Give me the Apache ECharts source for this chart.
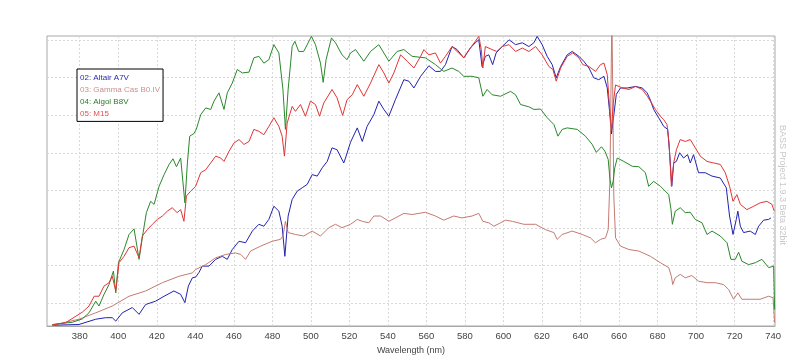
<!DOCTYPE html>
<html>
<head>
<meta charset="utf-8">
<script src="https://cdn.jsdelivr.net/npm/echarts@6/dist/echarts.min.js"></script>
<style>
html,body{margin:0;padding:0;background:#fff;}
#chart{width:800px;height:363px;}
</style>
</head>
<body>
<div id="chart"></div>
<script>
const wavelengthTicks = [380,400,420,440,460,480,500,520,540,560,580,600,620,640,660,680,700,720,740];
const gridLevels = [0,1,2,3,4,5,6,7];
const seriesNames = ['02: Altair A7V','03: Gamma Cas B0.IV','04: Algol B8V','05: M15'];

const altair = [[365.8,-0.58],[379.6,-0.56],[388.3,-0.42],[393.4,-0.38],[396.9,-0.38],[398.7,-0.47],[402.1,-0.25],[407.3,-0.11],[410.8,-0.29],[414.2,-0.03],[419.4,0.06],[423.8,0.19],[428.9,0.33],[432.4,0.24],[434.6,0.02],[436.4,0.46],[438.5,0.68],[440.2,0.70],[441.9,0.82],[443.6,0.99],[447.1,0.99],[450.6,1.17],[454.0,1.25],[456.6,1.17],[459.2,1.43],[462.7,1.65],[466.1,1.61],[469.6,1.92],[473.0,2.10],[475.6,2.05],[478.2,2.23],[480.8,2.58],[483.4,2.45],[485.1,2.05],[486.5,1.25],[488.2,2.32],[490.3,2.76],[492.9,2.98],[495.5,3.07],[498.1,3.16],[500.7,3.42],[503.3,3.38],[505.9,3.60],[508.5,3.77],[511.0,4.13],[513.6,4.08],[517.1,3.73],[518.0,3.86],[520.6,4.28],[524.1,4.66],[526.7,4.30],[529.2,4.70],[532.7,5.01],[535.3,5.37],[537.9,5.15],[540.5,4.97],[543.9,5.41],[548.3,5.94],[550.9,5.90],[553.5,5.72],[557.0,6.03],[561.3,6.31],[564.7,6.16],[567.3,6.16],[569.9,6.34],[573.3,6.82],[575.9,6.74],[579.4,6.52],[582.8,6.78],[585.4,6.92],[587.2,7.00],[588.9,6.29],[590.6,6.56],[592.4,6.60],[594.4,6.34],[596.2,6.65],[599.4,6.82],[602.9,7.00],[606.3,6.87],[609.8,6.92],[613.2,6.82],[615.8,6.92],[617.5,7.09],[620.1,6.87],[622.7,6.56],[625.3,6.34],[627.4,5.99],[629.7,6.29],[633.1,6.60],[635.7,6.69],[639.2,6.56],[641.7,6.43],[644.4,6.25],[646.9,5.99],[649.5,5.94],[652.2,6.03],[653.9,5.72],[655.1,5.10],[656.1,4.50],[657.2,4.95],[658.6,5.55],[660.8,5.72],[664.3,5.72],[668.6,5.76],[672.1,5.72],[674.6,5.59],[676.3,5.40],[678.0,5.15],[680.6,4.93],[683.2,4.70],[685.3,4.62],[686.4,3.91],[687.4,3.11],[688.4,3.73],[689.8,3.77],[691.5,4.00],[693.5,3.86],[695.6,3.95],[697.0,3.73],[698.7,3.95],[701.3,3.47],[704.8,3.47],[708.3,3.38],[712.6,3.33],[715.7,3.07],[717.4,2.32],[719.2,1.83],[720.9,2.23],[721.7,2.45],[723.0,2.05],[724.7,1.88],[728.1,1.92],[730.8,1.83],[732.5,2.05],[735.1,2.21],[737.7,2.23],[738.9,2.27]];

const gammaCas = [[365.8,-0.58],[379.6,-0.42],[388.3,-0.25],[396.9,-0.07],[405.6,0.19],[414.2,0.33],[422.9,0.55],[431.5,0.72],[438.5,0.81],[440.2,0.90],[445.4,1.03],[450.6,1.21],[455.8,1.30],[460.9,1.34],[463.6,1.30],[466.1,1.17],[468.7,1.39],[473.9,1.52],[479.9,1.65],[484.2,1.70],[485.6,1.80],[486.8,2.18],[488.2,1.88],[492.0,1.83],[496.3,1.79],[500.7,1.92],[505.0,1.79],[509.3,2.01],[512.8,2.10],[516.2,2.01],[520.6,2.10],[524.1,2.23],[526.7,2.18],[530.1,2.14],[532.7,2.32],[536.2,2.32],[540.5,2.18],[543.9,2.27],[548.3,2.39],[552.6,2.36],[559.5,2.42],[564.7,2.32],[569.0,2.21],[574.2,2.32],[578.5,2.27],[583.7,2.32],[587.2,2.39],[589.3,2.18],[592.4,2.14],[595.0,2.05],[598.5,2.14],[601.1,2.21],[604.6,2.18],[610.6,2.10],[616.7,2.10],[621.8,1.96],[626.2,1.88],[627.9,1.70],[630.5,1.83],[635.7,1.92],[640.9,1.83],[645.2,1.74],[647.8,1.61],[650.4,1.70],[653.0,1.74],[654.4,1.96],[655.3,3.29],[656.0,6.38],[656.3,7.60],[656.6,6.38],[657.3,2.85],[658.2,1.74],[660.8,1.52],[665.2,1.43],[670.3,1.39],[676.3,1.25],[681.5,1.08],[685.8,0.95],[687.2,0.72],[687.9,0.50],[689.2,0.68],[691.8,0.77],[694.4,0.68],[697.8,0.74],[701.3,0.59],[705.7,0.55],[710.0,0.55],[714.3,0.50],[716.9,0.37],[719.5,0.11],[721.7,0.28],[723.8,0.11],[728.1,0.11],[733.3,0.11],[737.7,0.19],[740.0,0.15],[740.8,-0.51]];

const algol = [[365.8,-0.56],[376.2,-0.50],[381.4,-0.41],[384.8,-0.25],[388.3,0.06],[390.0,-0.07],[392.6,0.24],[395.2,0.50],[397.5,0.86],[398.7,0.28],[400.1,1.08],[403.0,1.43],[405.6,1.83],[408.2,1.98],[410.8,1.17],[412.9,1.88],[414.6,2.41],[416.8,2.71],[418.6,2.63],[421.2,3.11],[423.8,3.42],[426.4,3.69],[428.4,3.84],[430.2,3.63],[432.4,3.86],[434.6,2.67],[435.9,3.73],[437.1,4.44],[439.3,4.51],[440.5,4.62],[442.8,5.01],[445.4,5.19],[448.0,5.15],[449.7,5.37],[452.3,5.59],[454.9,5.15],[456.6,5.59],[459.2,5.85],[461.8,6.21],[464.4,6.12],[467.9,6.14],[470.4,6.52],[473.0,6.56],[475.6,6.38],[478.2,6.47],[480.8,6.87],[483.4,6.65],[485.5,5.68],[486.8,4.62],[488.2,5.68],[490.3,6.82],[491.7,6.96],[493.7,6.69],[496.3,6.69],[500.3,7.09],[502.4,6.87],[505.0,6.38],[506.4,5.87],[507.9,6.47],[510.7,7.05],[512.8,6.92],[516.2,6.60],[518.8,6.47],[520.6,6.65],[523.2,6.74],[527.5,6.43],[531.0,6.69],[535.3,6.87],[540.5,6.43],[544.8,6.69],[548.3,6.74],[552.6,6.56],[559.5,6.52],[564.7,6.34],[569.0,6.16],[573.3,6.25],[576.8,6.16],[579.4,6.03],[583.7,6.03],[587.2,5.99],[589.3,5.50],[591.5,5.68],[594.1,5.54],[598.5,5.50],[603.7,5.63],[606.3,5.54],[608.9,5.28],[613.2,5.22],[615.8,5.15],[619.3,5.16],[622.7,4.93],[626.2,4.75],[628.3,4.44],[630.5,4.62],[633.1,4.66],[638.3,4.62],[642.6,4.44],[646.1,4.22],[648.2,4.01],[650.9,4.16],[652.7,4.04],[654.4,3.82],[655.3,3.30],[656.1,3.07],[657.0,3.25],[657.8,3.60],[659.1,3.86],[662.5,3.77],[666.9,3.64],[670.3,3.63],[673.7,3.47],[675.4,3.11],[678.0,3.24],[681.5,3.11],[685.8,2.89],[687.0,2.49],[687.7,2.10],[689.2,2.45],[691.8,2.54],[694.4,2.41],[697.0,2.42],[699.6,2.23],[703.1,2.14],[705.7,1.83],[708.3,1.92],[712.6,1.79],[716.1,1.61],[718.1,1.17],[720.4,1.17],[722.1,1.36],[723.8,1.12],[727.3,1.03],[730.8,1.08],[734.2,1.17],[737.7,0.95],[740.3,0.99],[740.8,-0.16]];

const m15 = [[365.8,-0.57],[372.7,-0.51],[378.0,-0.34],[381.4,-0.23],[384.8,-0.07],[387.5,0.19],[390.0,0.19],[392.6,0.46],[395.2,0.55],[396.9,0.72],[398.7,0.33],[400.4,1.08],[403.0,1.25],[405.6,1.48],[408.2,1.52],[410.8,1.21],[412.5,1.79],[415.1,1.96],[417.7,2.10],[420.3,2.23],[422.9,2.32],[425.5,2.45],[428.0,2.54],[430.6,2.41],[432.4,2.49],[434.1,2.18],[435.4,2.85],[437.6,2.98],[440.2,3.11],[442.8,3.47],[445.4,3.55],[448.0,3.73],[450.6,3.91],[453.2,3.86],[454.9,3.77],[457.5,4.04],[460.1,4.26],[462.7,4.35],[465.3,4.22],[467.9,4.30],[470.4,4.62],[473.0,4.57],[475.6,4.48],[478.2,4.70],[480.8,4.93],[483.4,4.70],[485.1,4.44],[486.3,3.91],[487.7,4.79],[490.3,5.23],[492.0,5.10],[494.6,5.28],[497.2,4.97],[499.8,5.37],[502.4,5.28],[504.5,4.97],[506.7,5.32],[511.0,5.68],[513.6,5.46],[516.5,4.99],[518.8,5.41],[521.5,5.54],[524.1,5.81],[527.5,5.50],[531.0,5.85],[535.3,6.34],[537.9,6.12],[540.5,5.85],[543.1,6.12],[546.6,6.60],[550.0,6.43],[553.5,6.25],[557.0,6.56],[558.7,6.74],[561.3,6.60],[564.7,6.65],[567.3,6.38],[569.9,6.56],[573.3,6.82],[575.9,6.69],[579.4,6.52],[582.8,6.78],[585.4,6.96],[587.2,7.09],[588.5,6.74],[589.3,6.25],[590.6,6.82],[594.1,6.74],[596.5,6.69],[599.4,6.82],[602.9,6.87],[606.3,6.69],[609.8,6.78],[613.2,6.69],[616.7,6.82],[620.1,6.60],[623.6,6.29],[625.7,6.21],[627.4,5.90],[629.7,6.25],[633.1,6.56],[636.0,6.65],[639.2,6.52],[641.2,6.34],[644.4,6.29],[647.8,6.16],[650.4,6.34],[652.2,6.38],[653.9,6.07],[655.1,5.20],[656.1,4.60],[657.0,5.30],[658.2,5.80],[659.1,5.81],[661.7,5.72],[665.2,5.68],[668.6,5.76],[672.1,5.68],[674.7,5.50],[676.3,5.37],[678.9,5.15],[681.5,4.97],[683.2,4.88],[684.9,4.75],[686.0,4.26],[687.2,3.11],[688.4,3.73],[689.8,4.08],[691.8,4.35],[694.4,4.30],[697.0,4.35],[699.6,4.13],[702.2,3.91],[705.7,3.77],[709.1,3.73],[712.6,3.69],[715.2,3.47],[717.4,3.11],[719.2,2.71],[721.2,2.89],[723.0,2.63],[726.4,2.49],[729.9,2.58],[733.3,2.67],[736.8,2.71],[739.4,2.63],[740.6,2.45]];

const lineColors = ['#2222b0','#c47a72','#2a882a','#e03535'];
const legendColors = ['#2a2aa8','#c89090','#2a7a2a','#e05050'];
const seriesData = [altair, gammaCas, algol, m15];

const chart = echarts.init(document.getElementById('chart'), null, {renderer:'canvas'});
const font = "'Liberation Sans', Arial, sans-serif";

chart.setOption({
  animation: false,
  backgroundColor: '#fff',
  textStyle: { fontFamily: font },
  grid: { left: 47, top: 36, right: 25, bottom: 37, show: true, borderColor: '#a8a8a8', borderWidth: 1, backgroundColor: '#fff' },
  legend: {
    orient: 'vertical', left: 77, top: 69,
    backgroundColor: '#fff', borderColor: '#000', borderWidth: 1,
    padding: [4, 3, 3, 0],
    itemWidth: 0, itemHeight: 0, itemGap: 1.8,
    icon: 'rect',
    selectedMode: false,
    textStyle: { fontSize: 8, lineHeight: 10, fontFamily: font, padding: [0,0,0,-2] },
    data: seriesNames.map((n, i) => ({ name: n, textStyle: { color: legendColors[i] } }))
  },
  xAxis: {
    type: 'value', min: 363, max: 741,
    name: 'Wavelength (nm)', nameLocation: 'middle', nameGap: 19,
    nameTextStyle: { fontSize: 9, color: '#444', fontFamily: font },
    axisLine: { show: true, onZero: false, lineStyle: { color: '#a8a8a8' } },
    axisTick: { show: false, customValues: wavelengthTicks },
    axisLabel: { customValues: wavelengthTicks, fontSize: 9.5, color: '#444', margin: 5, fontFamily: font },
    splitLine: { show: true, lineStyle: { color: '#d9d9d9', type: [2, 2], width: 1 } }
  },
  yAxis: {
    type: 'value', min: -0.6, max: 7.1,
    axisLine: { show: false },
    axisLabel: { show: false, customValues: gridLevels },
    axisTick: { show: false, customValues: gridLevels },
    splitLine: { show: true, lineStyle: { color: '#d9d9d9', type: [2, 2], width: 1 } }
  },
  graphic: [{
    type: 'text', x: 782, y: 185, rotation: -Math.PI / 2,
    style: { text: 'BASS Project 1.9.3 Beta 32bit', fill: '#c8c8c8', font: "9px 'Liberation Sans', Arial, sans-serif", textAlign: 'center', textVerticalAlign: 'middle' },
    silent: true
  }],
  series: seriesData.map((d, i) => ({
    name: seriesNames[i], type: 'line', data: d, showSymbol: false, symbol: 'none',
    lineStyle: { color: lineColors[i], width: 1 }, itemStyle: { color: lineColors[i] },
    clip: true, silent: true
  }))
});
</script>
</body>
</html>
